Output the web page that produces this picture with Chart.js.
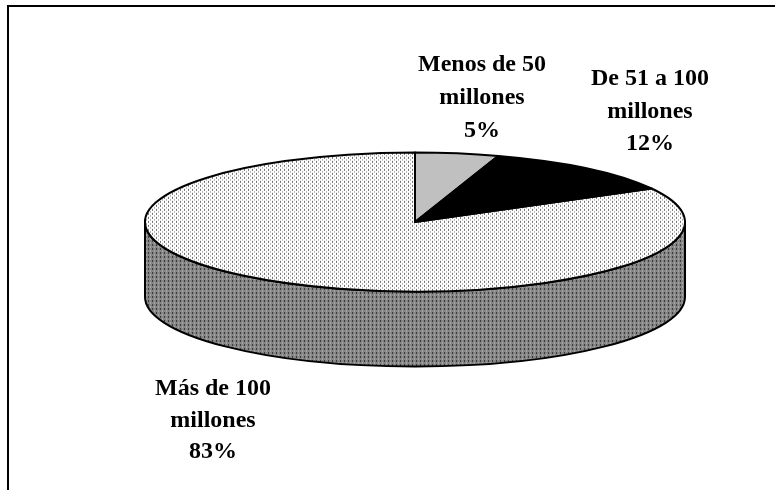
<!DOCTYPE html>
<html><head><meta charset="utf-8">
<script src="https://cdn.jsdelivr.net/npm/chart.js@4.4.1/dist/chart.umd.min.js"></script>
<style>
html,body{margin:0;padding:0;background:#fff;}
#wrap{position:relative;width:775px;height:490px;overflow:hidden;}
#frame{position:absolute;left:7px;top:5px;width:800px;height:600px;border-left:2px solid #000;border-top:2px solid #000;}
#wrapc{position:absolute;left:0;top:0;width:775px;height:490px;}
</style></head><body>
<div id="wrap"><div id="frame"></div><div id="wrapc"><canvas id="c"></canvas></div></div>
<script>
// ---- data ----
const categories = [["Menos de 50", "millones"], ["De 51 a 100", "millones"], ["Más de 100", "millones"]];
const values = [5, 12, 83];
const percentLabels = ["5%", "12%", "83%"];

// ---- styling / layout (not data) ----
const K = 69.5 / 270;     // vertical squash of the pie
const DEPTH = 75;         // thickness of the pie side
const labelAnchors = [[482, 71, 33], [650, 85, 32.5], [213, 395, 31.5]]; // centre x, first baseline, line height

const canvas = document.getElementById('c');
const ctx0 = canvas.getContext('2d');
function makePattern(bg, dark, light) {
  const c = document.createElement('canvas'); c.width = 4; c.height = 4;
  const g = c.getContext('2d');
  g.fillStyle = bg; g.fillRect(0, 0, 4, 4);
  g.fillStyle = dark; g.fillRect(0, 0, 1, 2);
  g.fillStyle = light; g.fillRect(2, 2, 1, 2);
  return ctx0.createPattern(c, 'repeat');
}
const topPattern = makePattern('#ffffff', '#6e6e6e', '#b4b4b4');
topPattern.setTransform(new DOMMatrix([1, 0, 0, 1 / K, 0, 0]));
const wallPattern = makePattern('#858585', '#3c3c3c', '#a8a8a8');
const topColors = ['#c0c0c0', '#000000', topPattern];
const wallColors = ['#909090', '#000000', wallPattern];

const pie3d = {
  id: 'pie3d',
  beforeDatasetsDraw(chart) {
    const ctx = chart.ctx;
    const arcs = chart.getDatasetMeta(0).data;
    const cx = arcs[0].x, cy = arcs[0].y, rx = arcs[0].outerRadius, ry = rx * K;
    ctx.save();
    arcs.forEach((a, i) => {
      [0, 2 * Math.PI].forEach(off => {
        const s = Math.max(a.startAngle, off), e = Math.min(a.endAngle, off + Math.PI);
        if (e <= s) return;
        ctx.beginPath();
        ctx.ellipse(cx, cy, rx, ry, 0, s, e, false);
        ctx.lineTo(cx + rx * Math.cos(e), cy + ry * Math.sin(e) + DEPTH);
        ctx.ellipse(cx, cy + DEPTH, rx, ry, 0, e, s, true);
        ctx.closePath();
        ctx.fillStyle = wallColors[i]; ctx.fill();
        ctx.lineWidth = 2; ctx.strokeStyle = '#000'; ctx.lineJoin = 'round'; ctx.stroke();
      });
    });
    ctx.restore();
    ctx.save();
    ctx.translate(cx, cy); ctx.scale(1, K); ctx.translate(-cx, -cy);
  },
  afterDatasetsDraw(chart) {
    const ctx = chart.ctx;
    ctx.restore();
    const arcs = chart.getDatasetMeta(0).data;
    const cx = arcs[0].x, cy = arcs[0].y, rx = arcs[0].outerRadius, ry = rx * K;
    ctx.save();
    ctx.lineWidth = 2; ctx.strokeStyle = '#000'; ctx.lineJoin = 'round';
    arcs.forEach(a => {
      ctx.beginPath();
      ctx.moveTo(cx, cy);
      ctx.ellipse(cx, cy, rx, ry, 0, a.startAngle, a.endAngle, false);
      ctx.closePath();
      ctx.stroke();
    });
    ctx.fillStyle = '#000';
    ctx.font = 'bold 24px "Liberation Serif", "Times New Roman", serif';
    ctx.textAlign = 'center'; ctx.textBaseline = 'alphabetic';
    categories.forEach((lines, i) => {
      const [x, y0, lh] = labelAnchors[i];
      const all = lines.concat([percentLabels[i]]);
      all.forEach((t, j) => ctx.fillText(t, x, y0 + j * lh));
    });
    ctx.restore();
  }
};

new Chart(canvas, {
  type: 'pie',
  data: {
    labels: categories.map(c => c.join(' ')),
    datasets: [{
      data: values,
      backgroundColor: topColors,
      borderWidth: 0,
      hoverOffset: 0,
      clip: false
    }]
  },
  options: {
    responsive: true,
    maintainAspectRatio: false,
    animation: false,
    events: [],
    radius: 270,
    layout: { padding: { left: 55, right: 0, top: 0, bottom: 46 } },
    plugins: { legend: { display: false }, tooltip: { enabled: false } }
  },
  plugins: [pie3d]
});
</script>
</body></html>
